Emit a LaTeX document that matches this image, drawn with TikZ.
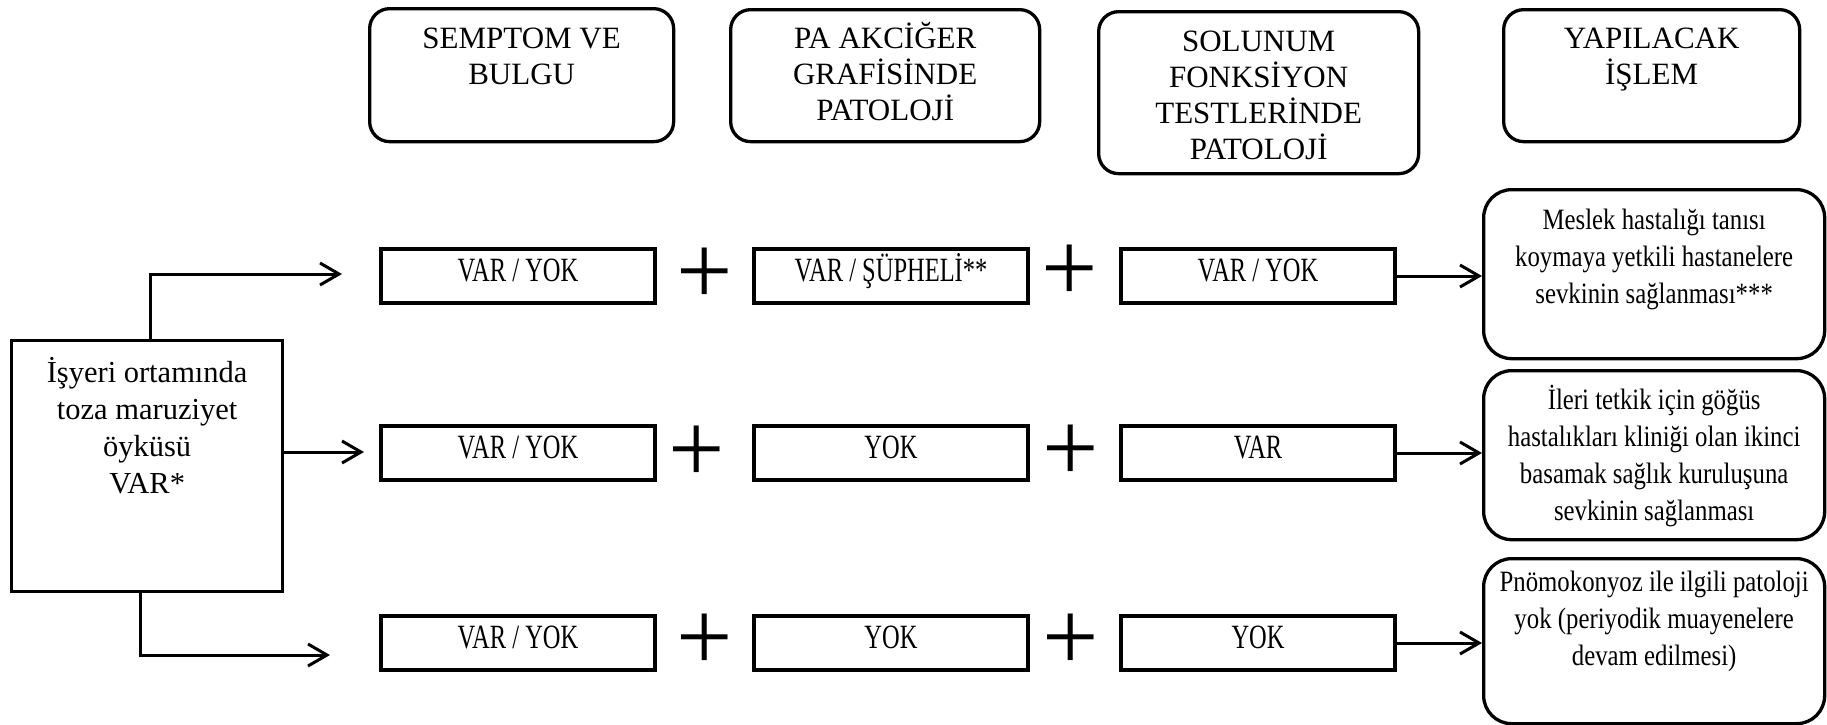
\documentclass[tikz,border=0pt]{standalone}
\usepackage{fontspec}
\setmainfont{Liberation Serif}
\newfontfamily\cellfont[FakeStretch=0.72]{Liberation Serif}
\newfontfamily\actfont[FakeStretch=0.84]{Liberation Serif}
\usetikzlibrary{arrows.meta}
\newcommand{\topbox}[4]{\parbox[c][#1][t]{#2}{\centering\rule{0pt}{#3}#4}}
\tikzstyle{headbox} = [draw, line width=3.3pt, rounded corners=20pt,
  inner sep=0pt, anchor=north west, font=\fontsize{31}{36}\selectfont]
\tikzstyle{startbox} = [draw, line width=3.3pt, inner sep=0pt,
  anchor=north west, font=\fontsize{30.5}{37}\selectfont]
\tikzstyle{cell} = [draw, line width=3.3pt, inner sep=0pt,
  minimum width=274pt, minimum height=54pt, text height=27pt,
  text depth=17pt, font=\cellfont\fontsize{34}{40}\selectfont]
\tikzstyle{plus} = [inner sep=0pt, font=\fontsize{100}{100}\selectfont]
\tikzstyle{actbox} = [draw, line width=3.3pt, rounded corners=28pt,
  inner sep=0pt, anchor=north west, font=\actfont\fontsize{29.5}{37}\selectfont]
\tikzstyle{arr} = [line width=3pt, -{Straight Barb[length=19pt, width=22pt]}]

\begin{document}
\begin{tikzpicture}[x=1pt, y=-1pt]
  \useasboundingbox (0,0) rectangle (1827,724);
  % headers
  \node[headbox] (hsym) at (368,7) {\topbox{133pt}{304pt}{40pt}{SEMPTOM VE\\BULGU}};
  \node[headbox] (hpa) at (729,8) {\topbox{132pt}{309pt}{39pt}{PA AKCİĞER\\GRAFİSİNDE\\PATOLOJİ}};
  \node[headbox] (hsft) at (1097,10) {\topbox{162pt}{320pt}{40pt}{SOLUNUM\\FONKSİYON\\TESTLERİNDE\\PATOLOJİ}};
  \node[headbox] (hact) at (1502,8) {\topbox{132pt}{296pt}{39pt}{YAPILACAK\\İŞLEM}};
  % exposure
  \node[startbox] (start) at (10,339) {\topbox{251pt}{271pt}{42pt}{İşyeri ortamında\\toza maruziyet\\öyküsü\\VAR*}};
  % row 1
  \node[cell] (c11) at (518,276) {VAR / YOK};
  \node[plus] (p11) at (705,276) {+};
  \node[cell] (c12) at (891,276) {VAR / ŞÜPHELİ**};
  \node[plus] (p12) at (1070,273) {+};
  \node[cell] (c13) at (1258,276) {VAR / YOK};
  % row 2
  \node[cell] (c21) at (518,453) {VAR / YOK};
  \node[plus] (p21) at (697,454) {+};
  \node[cell] (c22) at (891,453) {YOK};
  \node[plus] (p22) at (1071,453) {+};
  \node[cell] (c23) at (1258,453) {VAR};
  % row 3
  \node[cell] (c31) at (518,643) {VAR / YOK};
  \node[plus] (p31) at (705,642) {+};
  \node[cell] (c32) at (891,643) {YOK};
  \node[plus] (p32) at (1071,642) {+};
  \node[cell] (c33) at (1258,643) {YOK};
  % actions
  \node[actbox] (r1) at (1482,188) {\topbox{169pt}{341pt}{40pt}{Meslek hastalığı tanısı\\koymaya yetkili hastanelere\\sevkinin sağlanması***}};
  \node[actbox] (r2) at (1482,369) {\topbox{169pt}{341pt}{39pt}{İleri tetkik için göğüs\\hastalıkları kliniği olan ikinci\\basamak sağlık kuruluşuna\\sevkinin sağlanması}};
  \node[actbox] (r3) at (1482,557) {\topbox{165pt}{341pt}{33pt}{Pnömokonyoz ile ilgili patoloji\\yok (periyodik muayenelere\\devam edilmesi)}};
  % arrows
  \coordinate (t1) at (342,274);
  \coordinate (t2) at (364,452);
  \coordinate (t3) at (330,655);
  \draw[arr] ([xshift=3.5pt]start.north) |- (t1);
  \draw[arr] (start.east |- t2) -- (t2);
  \draw[arr] ([xshift=-6.5pt]start.south) |- (t3);
  \draw[arr] (c13.east) -- (c13.east -| r1.west);
  \draw[arr] (c23.east) -- (c23.east -| r2.west);
  \draw[arr] (c33.east) -- (c33.east -| r3.west);
\end{tikzpicture}
\end{document}
